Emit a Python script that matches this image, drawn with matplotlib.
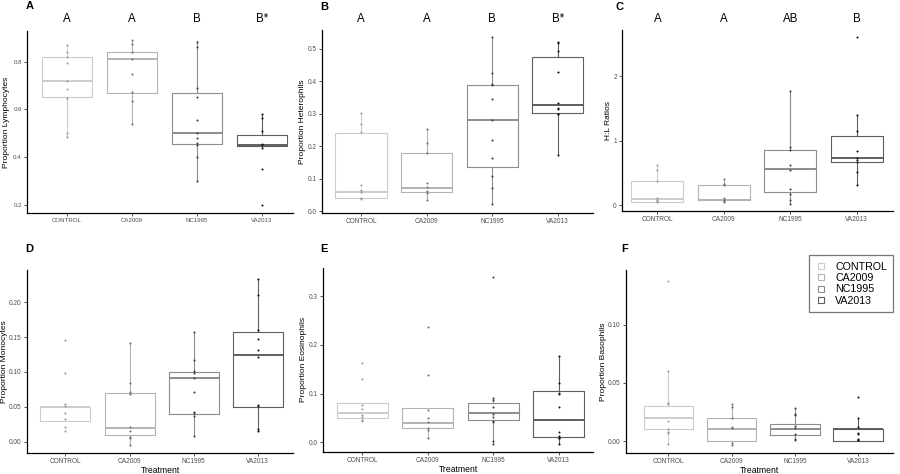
import matplotlib
matplotlib.use("Agg")
import matplotlib.pyplot as plt
from matplotlib.lines import Line2D

plt.rcParams['font.family'] = ['Liberation Sans', 'DejaVu Sans']

groups = ["CONTROL", "CA2009", "NC1995", "VA2013"]

# ---- Panel A: Proportion Lymphocytes ----
lym_q1 = [0.65, 0.67, 0.455, 0.445]
lym_med = [0.72, 0.81, 0.50, 0.45]
lym_q3 = [0.82, 0.84, 0.67, 0.492]
lym_lo = [0.485, 0.54, 0.30, 0.44]
lym_hi = [0.87, 0.89, 0.885, 0.58]
lym_pts = [
    [0.87, 0.84, 0.82, 0.796, 0.718, 0.686, 0.647, 0.501, 0.485],
    [0.89, 0.872, 0.84, 0.81, 0.746, 0.672, 0.633, 0.54],
    [0.883, 0.862, 0.689, 0.653, 0.554, 0.50, 0.482, 0.457, 0.449, 0.401, 0.30],
    [0.58, 0.562, 0.508, 0.454, 0.45, 0.439, 0.351, 0.20],
]
lym_letters = ["A", "A", "B", "B*"]

# ---- Panel B: Proportion Heterophils ----
het_q1 = [0.04, 0.06, 0.136, 0.302]
het_med = [0.06, 0.072, 0.282, 0.327]
het_q3 = [0.24, 0.179, 0.39, 0.474]
het_lo = [0.037, 0.034, 0.022, 0.174]
het_hi = [0.302, 0.253, 0.535, 0.521]
het_pts = [
    [0.302, 0.269, 0.243, 0.079, 0.065, 0.06, 0.039, 0.037],
    [0.253, 0.21, 0.178, 0.087, 0.073, 0.062, 0.057, 0.034],
    [0.535, 0.427, 0.392, 0.387, 0.344, 0.282, 0.219, 0.162, 0.109, 0.071, 0.022],
    [0.521, 0.519, 0.494, 0.43, 0.333, 0.318, 0.315, 0.30, 0.298, 0.174],
]
het_letters = ["A", "A", "B", "B*"]

# ---- Panel C: H:L Ratios ----
hl_q1 = [0.052, 0.073, 0.202, 0.668]
hl_med = [0.088, 0.083, 0.56, 0.736]
hl_q3 = [0.368, 0.316, 0.855, 1.078]
hl_lo = [0.05, 0.05, 0.02, 0.306]
hl_hi = [0.62, 0.399, 1.77, 1.399]
hl_pts = [
    [0.62, 0.539, 0.368, 0.109, 0.073, 0.062, 0.052],
    [0.399, 0.332, 0.316, 0.109, 0.073, 0.062, 0.05],
    [1.77, 0.902, 0.85, 0.622, 0.549, 0.244, 0.166, 0.083, 0.02],
    [2.6, 1.399, 1.15, 0.839, 0.736, 0.705, 0.668, 0.518, 0.306],
]
hl_letters = ["A", "A", "AB", "B"]

# ---- Panel D: Proportion Monocytes ----
mon_q1 = [0.03, 0.01, 0.040, 0.050]
mon_med = [0.05, 0.020, 0.091, 0.125]
mon_q3 = [0.05, 0.070, 0.100, 0.157]
mon_lo = [0.03, -0.004, 0.008, 0.016]
mon_hi = [0.05, 0.142, 0.157, 0.233]
mon_pts = [
    [0.146, 0.099, 0.054, 0.051, 0.041, 0.033, 0.021, 0.016],
    [0.142, 0.084, 0.072, 0.069, 0.021, 0.016, 0.007, 0.006, -0.004],
    [0.157, 0.117, 0.101, 0.098, 0.092, 0.071, 0.042, 0.041, 0.037, 0.008],
    [0.233, 0.21, 0.16, 0.147, 0.132, 0.122, 0.053, 0.051, 0.018, 0.016],
]

# ---- Panel E: Proportion Eosinophils ----
eos_q1 = [0.050, 0.030, 0.045, 0.010]
eos_med = [0.060, 0.040, 0.060, 0.045]
eos_q3 = [0.080, 0.070, 0.080, 0.106]
eos_lo = [0.043, 0.008, -0.003, -0.003]
eos_hi = [0.080, 0.070, 0.090, 0.177]
eos_pts = [
    [0.162, 0.129, 0.077, 0.068, 0.057, 0.052, 0.045, 0.043],
    [0.236, 0.138, 0.067, 0.049, 0.042, 0.029, 0.025, 0.008],
    [0.34, 0.09, 0.087, 0.073, 0.059, 0.052, 0.044, 0.042, 0.003, -0.003],
    [0.177, 0.122, 0.102, 0.10, 0.073, 0.022, 0.013, 0.009, 0.008, -0.003],
]

# ---- Panel F: Proportion Basophils ----
bas_q1 = [0.010, 0.000, 0.005, 0.000]
bas_med = [0.020, 0.010, 0.010, 0.010]
bas_q3 = [0.030, 0.020, 0.0146, 0.010]
bas_lo = [-0.0026, -0.0032, 0.001, 0.000]
bas_hi = [0.060, 0.032, 0.028, 0.020]
bas_pts = [
    [0.1378, 0.060, 0.033, 0.032, 0.0175, 0.010, 0.0074, 0.007, -0.0026],
    [0.032, 0.029, 0.020, 0.012, 0.011, -0.002, -0.0032],
    [0.028, 0.0235, 0.0226, 0.013, 0.011, 0.006, 0.0017, 0.0009],
    [0.038, 0.020, 0.012, 0.007, 0.006, 0.002, 0.001, 0.001],
]

box_cols = ['#cccccc', '#b3b3b3', '#8c8c8c', '#5e5e5e']
pt_cols = ['#999999', '#6e6e6e', '#404040', '#111111']

W, H = 900, 474
fig = plt.figure(figsize=(9, 4.74), dpi=100)


def add_ax(l, t, r, b):
    return fig.add_axes([l / W, 1 - b / H, (r - l) / W, (b - t) / H])


def panel(box, q1, med, q3, lo, hi, pts, ylim, xlim, yticks, yfmt, ylabel,
          ylabel_x, tag, tagxy, letters=None, letter_y=None, xlabel=False,
          tick_fs=4.7):
    l, t, r, b = box
    ax = add_ax(l, t, r, b)
    xs = list(range(1, len(groups) + 1))
    for i in range(len(groups)):
        st = [dict(med=med[i], q1=q1[i], q3=q3[i], whislo=lo[i],
                   whishi=hi[i], fliers=[])]
        c = box_cols[i]
        ax.bxp(st, positions=[xs[i]], widths=0.78, showfliers=False,
               showcaps=False, manage_ticks=False,
               boxprops=dict(color=c, linewidth=0.8),
               whiskerprops=dict(color=c, linewidth=0.8),
               medianprops=dict(color=c, linewidth=1.4))
        ax.scatter([xs[i]] * len(pts[i]), pts[i], s=2.2, color=pt_cols[i],
                   zorder=3, linewidths=0)
    ax.set_xlim(*xlim)
    ax.set_ylim(*ylim)
    ax.set_xticks(xs)
    ax.set_xticklabels(groups)
    ax.set_yticks(yticks)
    ax.set_yticklabels([yfmt.format(v) for v in yticks])
    for s in ['top', 'right']:
        ax.spines[s].set_visible(False)
    for s in ['left', 'bottom']:
        ax.spines[s].set_linewidth(0.9)
        ax.spines[s].set_color('black')
    ax.tick_params(axis='both', length=2.2, width=0.6, color='#333333',
                   labelsize=tick_fs, labelcolor='#4d4d4d', pad=1.5)
    ax.set_ylabel(ylabel, fontsize=6)
    ax.yaxis.label.set_va('center')
    ax.yaxis.set_label_coords((ylabel_x - l) / (r - l), 0.5)
    if xlabel:
        ax.set_xlabel("Treatment", fontsize=6.2, labelpad=0.5)
    fig.text(tagxy[0] / W, 1 - tagxy[1] / H, tag, fontsize=8, fontweight='bold',
             ha='left', va='center')
    if letters:
        for i, s in enumerate(letters):
            xd = ax.transData.transform((xs[i], 0))[0]
            fig.text(xd / W, 1 - letter_y / H, s, fontsize=8.3, ha='center',
                     va='center')
    return ax


panel((27, 31, 293, 213), lym_q1, lym_med, lym_q3, lym_lo, lym_hi, lym_pts,
      (0.166, 0.928), (0.385, 4.477), [0.2, 0.4, 0.6, 0.8], "{:.1f}",
      "Proportion Lymphocytes", 7, "A", (26, 6), lym_letters, 19.5, tick_fs=4.4)
panel((322, 30, 593, 213), het_q1, het_med, het_q3, het_lo, het_hi, het_pts,
      (-0.006, 0.558), (0.406, 4.536), [0.0, 0.1, 0.2, 0.3, 0.4, 0.5], "{:.1f}",
      "Proportion Heterophils", 302, "B", (320.5, 6.5), het_letters, 19.5)
panel((622, 30, 893, 211), hl_q1, hl_med, hl_q3, hl_lo, hl_hi, hl_pts,
      (-0.093, 2.715), (0.469, 4.544), [0, 1, 2], "{:.0f}",
      "H:L Ratios", 608.3, "C", (616, 6.5), hl_letters, 19.5)
panel((27, 270, 293, 453), mon_q1, mon_med, mon_q3, mon_lo, mon_hi, mon_pts,
      (-0.016, 0.246), (0.4, 4.55), [0.0, 0.05, 0.10, 0.15, 0.20], "{:.2f}",
      "Proportion Monocytes", 4.5, "D", (25, 249), xlabel=True)
panel((323, 268, 593, 452), eos_q1, eos_med, eos_q3, eos_lo, eos_hi, eos_pts,
      (-0.020, 0.358), (0.397, 4.527), [0.0, 0.1, 0.2, 0.3], "{:.1f}",
      "Proportion Eosinophils", 303.5, "E", (320.5, 249), xlabel=True)
panel((626, 270, 893, 453), bas_q1, bas_med, bas_q3, bas_lo, bas_hi, bas_pts,
      (-0.0103, 0.147), (0.332, 4.55), [0.0, 0.05, 0.10], "{:.2f}",
      "Proportion Basophils", 603.5, "F", (621.5, 249), xlabel=True)

# legend
handles = [Line2D([0], [0], marker='s', markersize=5, markerfacecolor='white',
                  markeredgecolor=box_cols[i], markeredgewidth=0.8,
                  linestyle='None') for i in range(len(groups))]
leg = fig.legend(handles, groups, loc='upper left',
                 bbox_to_anchor=(804 / W, 1 - 250 / H), fontsize=7.7,
                 frameon=True, fancybox=False, handlelength=1.0,
                 handletextpad=0.8, labelspacing=0.12, borderpad=0.6)
leg.get_frame().set_edgecolor('#555555')
leg.get_frame().set_linewidth(0.9)

fig.savefig("out.png", dpi=100)
